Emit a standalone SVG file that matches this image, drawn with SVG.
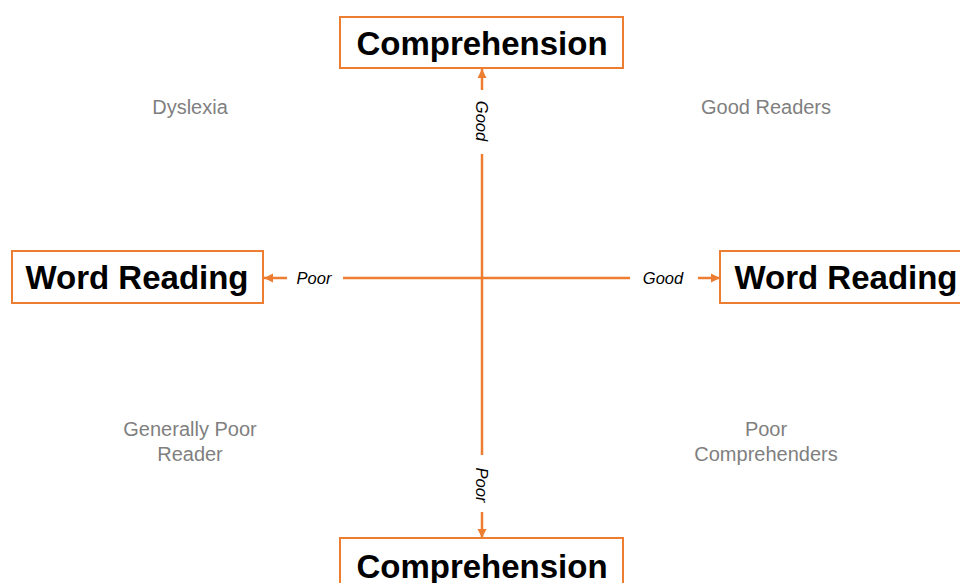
<svg xmlns="http://www.w3.org/2000/svg" width="960" height="583" viewBox="0 0 960 583">
<style>
.box{fill:#fff;stroke:#ED7D31;stroke-width:2}
.title{font-family:"Liberation Sans",Arial,sans-serif;font-weight:bold;font-size:33px;fill:#000;text-anchor:middle}
.conn{stroke:#ED7D31;stroke-width:2.5;fill:none}
.lbl{font-family:"Liberation Sans",Arial,sans-serif;font-style:italic;font-size:16.5px;fill:#000;text-anchor:middle}
.quad{font-family:"Liberation Sans",Arial,sans-serif;font-size:20px;fill:#7F7F7F;text-anchor:middle}
</style>
<defs>
<marker id="arr" markerUnits="userSpaceOnUse" markerWidth="10" markerHeight="10" viewBox="0 0 10 10" refX="9" refY="5" orient="auto">
<path d="M0,0.5 L9,5 L0,9.5 Z" fill="#ED7D31"/>
</marker>
</defs>
<rect width="960" height="583" fill="#fff"/>
<g id="connectors">
<line class="conn" x1="482" y1="90" x2="482" y2="69" marker-end="url(#arr)"/>
<line class="conn" x1="482" y1="154" x2="482" y2="455"/>
<line class="conn" x1="482" y1="512" x2="482" y2="538" marker-end="url(#arr)"/>
<line class="conn" x1="287" y1="278" x2="264" y2="278" marker-end="url(#arr)"/>
<line class="conn" x1="343" y1="278" x2="630" y2="278"/>
<line class="conn" x1="698" y1="278" x2="720" y2="278" marker-end="url(#arr)"/>
<text class="lbl" transform="translate(482,121) rotate(90)" x="0" y="6">Good</text>
<text class="lbl" transform="translate(482,485) rotate(90)" x="0" y="6">Poor</text>
<text class="lbl" x="314" y="284">Poor</text>
<text class="lbl" x="663" y="284">Good</text>
</g>
<g id="comp-top">
<rect class="box" x="340" y="17" width="283" height="51"/>
<text class="title" x="482" y="55">Comprehension</text>
</g>
<g id="comp-bottom">
<rect class="box" x="340" y="538" width="283" height="51"/>
<text class="title" x="482" y="578">Comprehension</text>
</g>
<g id="word-left">
<rect class="box" x="12" y="251" width="251" height="52"/>
<text class="title" x="137" y="289">Word Reading</text>
</g>
<g id="word-right">
<rect class="box" x="720" y="251" width="251" height="52"/>
<text class="title" x="846" y="289">Word Reading</text>
</g>
<g id="quadrants">
<text class="quad" x="190" y="114">Dyslexia</text>
<text class="quad" x="766" y="114">Good Readers</text>
<text class="quad" x="190" y="436">Generally Poor</text>
<text class="quad" x="190" y="461">Reader</text>
<text class="quad" x="766" y="436">Poor</text>
<text class="quad" x="766" y="461">Comprehenders</text>
</g>
</svg>
